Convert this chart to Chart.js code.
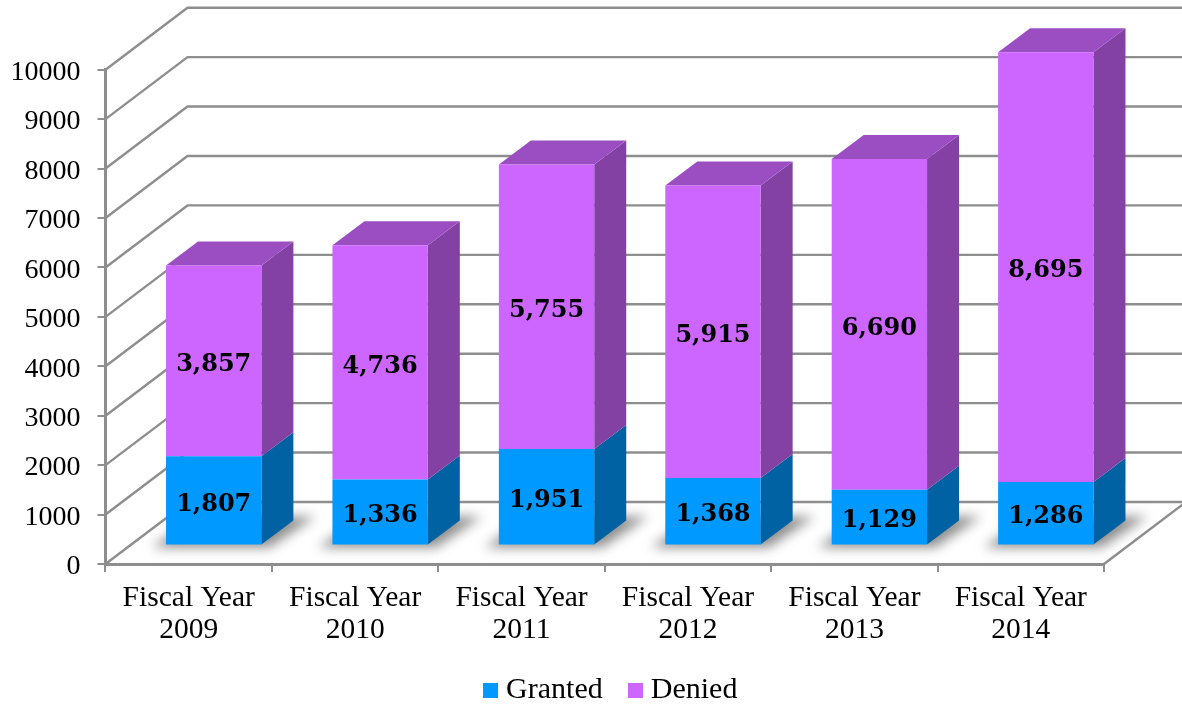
<!DOCTYPE html>
<html>
<head>
<meta charset="utf-8">
<title>Fiscal Year Granted and Denied</title>
<script src="https://cdn.jsdelivr.net/npm/chart.js@4"></script>
<style>
  html, body { margin: 0; background: #fff; }
  canvas { display: block; }
</style>
</head>
<body>
<canvas id="grafico" width="1182" height="704"></canvas>
<script>
// dados
const categories = [['Fiscal Year', '2009'], ['Fiscal Year', '2010'], ['Fiscal Year', '2011'],
                    ['Fiscal Year', '2012'], ['Fiscal Year', '2013'], ['Fiscal Year', '2014']];
const granted = [1807, 1336, 1951, 1368, 1129, 1286];
const denied = [3857, 4736, 5755, 5915, 6690, 8695];

const gridColor = '#8e8e8e';
const serif = '"Liberation Serif", serif';

// "3D" do Excel: parede do fundo e profundidade das barras
const wall = { x: 82, y: -62 };
const depth = { x: 32, y: -24 };
const barShift = { x: 25, y: -18.5 };

const faces = {
  Granted: { side: '#0062a3' },
  Denied: { side: '#8241a3', top: '#9b4ec2' }
};

// quadradinho da legenda
function swatch(color) {
  const c = document.createElement('canvas');
  c.width = c.height = 15;
  const g = c.getContext('2d');
  g.fillStyle = color;
  g.fillRect(0, 0, 15, 15);
  return c;
}

function poly(ctx, pts, color) {
  ctx.fillStyle = color;
  ctx.beginPath();
  pts.forEach((p, i) => i ? ctx.lineTo(p[0], p[1]) : ctx.moveTo(p[0], p[1]));
  ctx.closePath();
  ctx.fill();
}

const fake3d = {
  id: 'fake3d',
  afterLayout(chart) {
    // legenda no lugar certo (o draw dela recorta na propria caixa)
    const l = chart.legend;
    l.left += 9; l.right += 9;
    l.top -= 41; l.bottom = chart.height;
  },
  beforeDatasetsDraw(chart) {
    const ctx = chart.ctx;
    const y = chart.scales.y;
    const area = chart.chartArea;

    // linhas de grade: parede lateral + parede do fundo
    ctx.save();
    ctx.strokeStyle = gridColor;
    ctx.lineWidth = 2.4;
    y.ticks.forEach(t => {
      const py = y.getPixelForValue(t.value);
      ctx.beginPath();
      ctx.moveTo(area.left, py);
      ctx.lineTo(area.left + wall.x, py + wall.y);
      ctx.lineTo(chart.width, py + wall.y);
      ctx.stroke();
    });
    // borda direita do piso
    ctx.beginPath();
    ctx.moveTo(area.right, area.bottom);
    ctx.lineTo(area.right + wall.x, area.bottom + wall.y);
    ctx.stroke();
    ctx.restore();

    // sombra no piso
    ctx.save();
    ctx.filter = 'blur(6px)';
    chart.getDatasetMeta(0).data.forEach(bar => {
      const left = bar.x - bar.width / 2 + barShift.x;
      const right = bar.x + bar.width / 2 + barShift.x;
      const base = bar.base + barShift.y;
      poly(ctx, [[left - 14, base + 3], [right + 8, base + 3],
                 [right + depth.x + 22, base + depth.y - 4], [left + 30, base + depth.y - 4]],
           'rgba(95,95,95,0.7)');
    });
    ctx.restore();

    // as barras saem deslocadas do eixo; restore no afterDatasetsDraw
    ctx.save();
    ctx.translate(barShift.x, barShift.y);

    chart.data.datasets.forEach((ds, i) => {
      chart.getDatasetMeta(i).data.forEach(bar => {
        const left = bar.x - bar.width / 2;
        const right = bar.x + bar.width / 2;
        poly(ctx, [[right, bar.y], [right + depth.x, bar.y + depth.y],
                   [right + depth.x, bar.base + depth.y], [right, bar.base]], faces[ds.label].side);
        if (faces[ds.label].top) {
          poly(ctx, [[left, bar.y], [left + depth.x, bar.y + depth.y],
                     [right + depth.x, bar.y + depth.y], [right, bar.y]], faces[ds.label].top);
        }
      });
    });
  },
  afterDatasetsDraw(chart) {
    const ctx = chart.ctx;
    // rótulos dentro das barras
    ctx.font = 'bold 24px "DejaVu Serif", serif';
    ctx.fillStyle = '#000';
    ctx.textAlign = 'center';
    ctx.textBaseline = 'middle';
    chart.data.datasets.forEach((ds, i) => {
      chart.getDatasetMeta(i).data.forEach((bar, j) => {
        ctx.fillText(ds.data[j].toLocaleString('en-US'), bar.x, (bar.y + bar.base) / 2 + 4);
      });
    });
    ctx.restore();
  }
};

const graficoCtx = document.getElementById('grafico').getContext('2d');
new Chart(graficoCtx, {
  type: 'bar',
  data: {
    labels: categories,
    datasets: [
      { label: 'Granted', data: granted, backgroundColor: '#0099ff', clip: false },
      { label: 'Denied', data: denied, backgroundColor: '#cc66ff', clip: false }
    ]
  },
  options: {
    responsive: false,
    animation: false,
    barPercentage: 0.573,
    categoryPercentage: 1,
    layout: { padding: { top: 69.7, right: 78, left: 0, bottom: 0 } },
    scales: {
      x: {
        stacked: true,
        afterFit(s) { s.height = 120; },
        grid: { drawOnChartArea: false, color: gridColor, lineWidth: 2, tickLength: 8 },
        border: { color: gridColor, width: 3 },
        ticks: {
          color: '#000', padding: 10, maxRotation: 0, autoSkip: false,
          font: { family: serif, size: 29.5, lineHeight: 1.09 }
        }
      },
      y: {
        stacked: true,
        min: 0,
        max: 10000,
        afterFit(s) { s.width = 105.5; },
        grid: { drawOnChartArea: false, color: gridColor, lineWidth: 2, tickLength: 8 },
        border: { color: gridColor, width: 3 },
        ticks: {
          stepSize: 1000, color: '#000', padding: 17, labelOffset: 3,
          font: { family: serif, size: 28 },
          callback: v => String(v)
        }
      }
    },
    plugins: {
      tooltip: { enabled: false },
      legend: {
        position: 'bottom',
        fullSize: false,
        maxHeight: 20,
        labels: {
          color: '#000',
          padding: 32,
          usePointStyle: true,
          pointStyleWidth: 1,
          font: { family: serif, size: 30 },
          generateLabels: c => Chart.defaults.plugins.legend.labels.generateLabels(c)
            .map(item => ({ ...item, pointStyle: swatch(item.fillStyle) }))
        }
      }
    }
  },
  plugins: [fake3d]
});
</script>
</body>
</html>
